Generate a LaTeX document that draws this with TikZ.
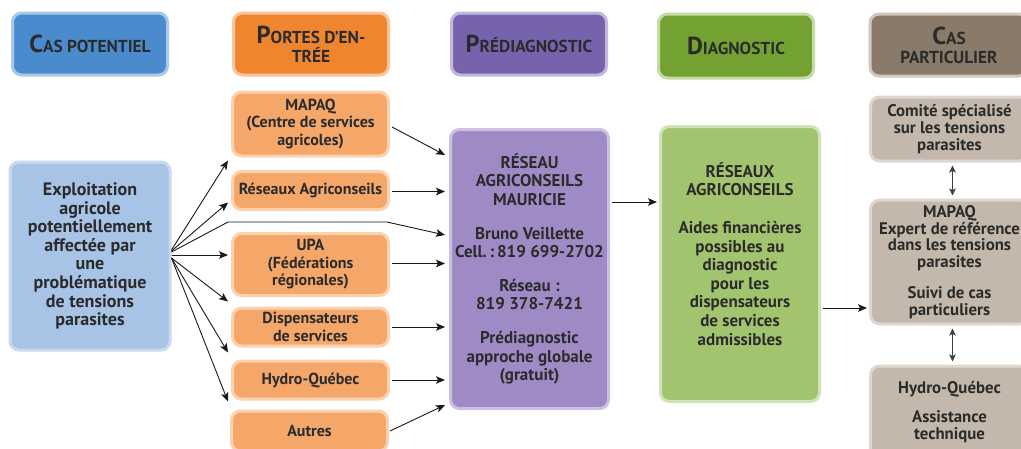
\documentclass[tikz,border=0pt]{standalone}
\usepackage{fontspec}
\setmainfont{PT Sans}[BoldFont={PT Sans Bold}]
\usetikzlibrary{arrows.meta,calc}
\definecolor{txt}{HTML}{2B2B2B}
\definecolor{hblueF}{HTML}{4A8BCE}\definecolor{hblueB}{HTML}{A9C9EA}
\definecolor{bblueF}{HTML}{A7C3E6}\definecolor{bblueB}{HTML}{C8DAF0}
\definecolor{horaF}{HTML}{F0852F}\definecolor{horaB}{HTML}{F9C49A}
\definecolor{boraF}{HTML}{F5A76A}\definecolor{boraB}{HTML}{FBD2B0}
\definecolor{hpurF}{HTML}{7763AD}\definecolor{hpurB}{HTML}{C3B8DC}
\definecolor{bpurF}{HTML}{9F8AC6}\definecolor{bpurB}{HTML}{CBC0E2}
\definecolor{hgrnF}{HTML}{73A232}\definecolor{hgrnB}{HTML}{C4DBA6}
\definecolor{bgrnF}{HTML}{A3C46F}\definecolor{bgrnB}{HTML}{D0E3B6}
\definecolor{hbrnF}{HTML}{8A7A69}\definecolor{hbrnB}{HTML}{D0C7BD}
\definecolor{bbrnF}{HTML}{C3B8AB}\definecolor{bbrnB}{HTML}{DED7CF}
\newcommand\capL[1]{{\fontsize{24.5}{25}\selectfont #1}}
\begin{document}
\begin{tikzpicture}[x=1pt,y=-1pt,
  box/.style={rounded corners=9pt, line width=3pt, inner sep=0pt, align=center, text=txt,
    font=\bfseries\fontsize{17}{18.6}\selectfont},
  hbox/.style={box, minimum width=155pt, minimum height=62pt,
    font=\bfseries\fontsize{17.3}{19}\selectfont},
  obox/.style={box, fill=boraF, draw=boraB, minimum width=156pt, font=\bfseries\fontsize{16}{17.5}\selectfont},
  rbox/.style={box, fill=bbrnF, draw=bbrnB, minimum width=158pt, font=\bfseries\fontsize{16.8}{16.8}\selectfont},
  arr/.style={-{Stealth[length=9pt,width=7.5pt,inset=2pt]}, line width=0.9pt, draw=black!90},
  dbl/.style={{Stealth[length=7pt,width=6.5pt,inset=1.5pt]}-{Stealth[length=7pt,width=6.5pt,inset=1.5pt]}, line width=0.8pt, draw=black!75}
]
\useasboundingbox (0,0) rectangle (1021,448);
\clip (0,0) rectangle (1021,448);
\fill[white] (0,0) rectangle (1021,448);

% headers
\node[hbox, fill=hblueF, draw=hblueB] (hcas) at (90,44) {\capL{C}AS POTENTIEL};
\node[hbox, fill=horaF, draw=horaB] (hportes) at (311,44) {\capL{P}ORTES D’EN-\\TRÉE};
\node[hbox, fill=hpurF, draw=hpurB] (hpre) at (529,44) {\capL{P}RÉDIAGNOSTIC};
\node[hbox, fill=hgrnF, draw=hgrnB, minimum height=64pt] (hdiag) at (736,46) {\capL{D}IAGNOSTIC};
\node[hbox, fill=hbrnF, draw=hbrnB, minimum width=158pt] (hcpart) at (949,45) {\capL{C}AS\\PARTICULIER};

% potential case
\node[box, fill=bblueF, draw=bblueB, minimum width=160pt, minimum height=188pt,
  font=\bfseries\fontsize{18}{18.6}\selectfont] (expl) at (90,256)
  {Exploitation\\agricole\\potentiellement\\affectée par\\une\\problématique\\de tensions\\parasites};

% entry points
\node[obox, minimum height=64pt] (mapaq) at (310.5,124) {MAPAQ\\(Centre de services\\agricoles)};
\node[obox, minimum height=38pt] (reseaux) at (310.5,190.5) {Réseaux Agriconseils};
\node[obox, minimum height=62pt] (upa) at (310.5,264.5) {UPA\\(Fédérations\\régionales)};
\node[obox, minimum height=38pt] (disp) at (310.5,327) {Dispensateurs\\de services};
\node[obox, minimum height=38pt] (hydro) at (310.5,380) {Hydro-Québec};
\node[obox, minimum height=40pt] (autres) at (309.5,431) {Autres};

% prediagnostic
\node[box, fill=bpurF, draw=bpurB, minimum width=158pt, minimum height=279pt] (pre) at (529.5,269)
  {RÉSEAU\\AGRICONSEILS\\MAURICIE\\[15pt]Bruno Veillette\\Cell.\,:\,819 699-2702\\[15pt]Réseau :\\819 378-7421\\[15pt]Prédiagnostic\\approche globale\\(gratuit)};

% diagnostic
\node[box, fill=bgrnF, draw=bgrnB, minimum width=159pt, minimum height=275pt] (diag) at (740,264) {};
\node[align=center, text=txt, inner sep=0pt, font=\bfseries\fontsize{17}{18.6}\selectfont] (diagtxt) at (740,254)
  {RÉSEAUX\\AGRICONSEILS\\[19pt]Aides financières\\possibles au\\diagnostic\\pour les\\dispensateurs\\de services\\admissibles};

% particular cases
\node[rbox, minimum height=64pt] (comite) at (949.5,129) {Comité spécialisé\\sur les tensions\\parasites};
\node[rbox, minimum height=124pt] (cmapaq) at (949.5,262) {MAPAQ\\Expert de référence\\dans les tensions\\parasites\\[14pt]Suivi de cas\\particuliers};
\node[rbox, minimum height=92pt] (chydro) at (949.5,412) {Hydro-Québec\\[13pt]Assistance\\technique};

% fan from exploitation
\coordinate (byA) at (228,222);
\coordinate (byB) at (387,222);
\draw[arr] ($(expl.east)+(0,-6)$) -- ($(mapaq.south west)+(-3,3)$);
\draw[arr] ($(expl.east)+(0,-5)$) -- ($(reseaux.west)+(-3,12)$);
\draw[arr] ($(expl.east)+(0,-4)$) -- (byA) -- (byB) -- ($(pre.west)+(-4,-34)$);
\draw[arr] ($(expl.east)+(0,-1)$) -- ($(expl.east -| upa.west)+(-3,-1)$);
\draw[arr] ($(expl.east)+(0,2)$) -- ($(disp.north west)+(-3,-5)$);
\draw[arr] ($(expl.east)+(0,2)$) -- ($(hydro.north west)+(-3,-7)$);
\draw[arr] ($(expl.east)+(0,2)$) -- ($(autres.north west)+(-2,-8)$);

% entries to prediagnostic
\draw[arr] ($(mapaq.east)+(2,3)$) -- ($(pre.west)+(-4,-114)$);
\draw[arr] ($(reseaux.east)+(2,1)$) -- ($(reseaux.east -| pre.west)+(-4,1)$);
\draw[arr] ($(upa.east)+(2,-1)$) -- ($(upa.east -| pre.west)+(-4,-1)$);
\draw[arr] ($(disp.east)+(2,0)$) -- ($(disp.east -| pre.west)+(-4,0)$);
\draw[arr] ($(hydro.east)+(2,0)$) -- ($(hydro.east -| pre.west)+(-4,0)$);
\draw[arr] ($(autres.east)+(1,0)$) -- ($(pre.west)+(-4,136)$);

% flow
\draw[arr] ($(pre.east)+(2,-67)$) -- ($(pre.east -| diag.west)+(-2,-67)$);
\draw[arr] ($(cmapaq.west -| diag.east)+(2,46)$) -- ($(cmapaq.west)+(-2,46)$);
\draw[dbl] ($(comite.south)+(3,3)$) -- ($(cmapaq.north)+(3,-3)$);
\draw[dbl] ($(cmapaq.south)+(3,3)$) -- ($(chydro.north)+(3,-3)$);
\end{tikzpicture}
\end{document}
